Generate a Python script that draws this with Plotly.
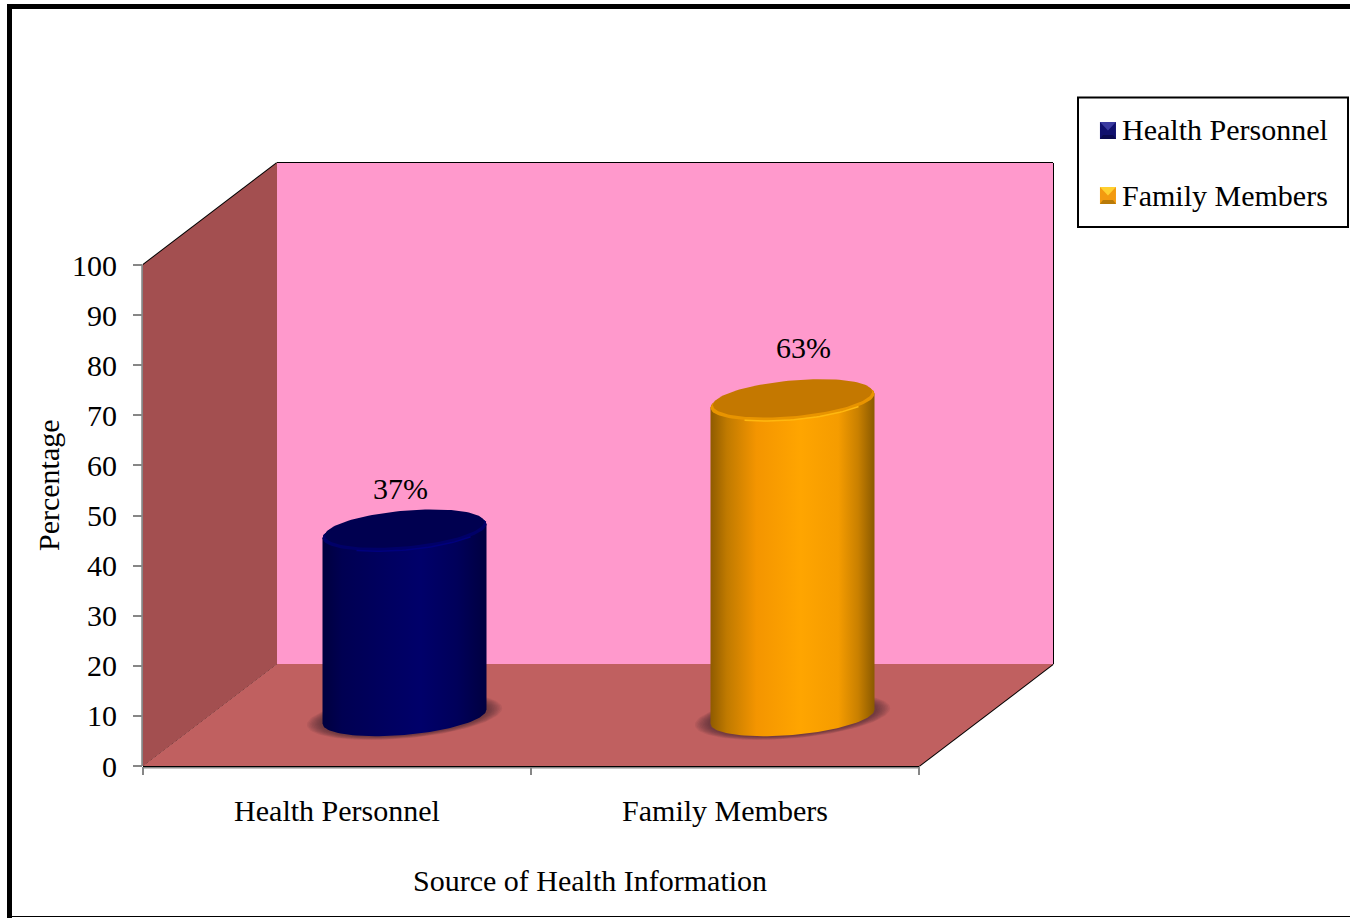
import numpy as np
import plotly.graph_objects as go

categories = ["Health Personnel", "Family Members"]
values = [37, 63]
y_ticks = [0, 10, 20, 30, 40, 50, 60, 70, 80, 90, 100]
x_title = "Source of Health Information"
y_title = "Percentage"

BAR_COLORS = [
    dict(
        body=[[0, "#00003e"], [0.12, "#000052"], [0.35, "#00005e"], [0.6, "#00006a"], [0.82, "#00005a"], [1, "#000040"]],
        cap="#000050", rim="#000068", hi="#00007e",
        sw=("#10106e", "#3a3aa0", "#0a0a50", "#141478"),
    ),
    dict(
        body=[[0, "#8f5b00"], [0.1, "#c07a00"], [0.28, "#f49500"], [0.55, "#ffa500"], [0.78, "#f59c00"], [0.9, "#c98000"], [1, "#8a5a00"]],
        cap="#c47800", rim="#e89400", hi="#ffb80f",
        sw=("#f39a10", "#ffd030", "#b87a08", "#f5a818"),
    ),
]
# % label placement: px sideways, px above the cap centre
LABEL_SHIFT = [(-4, 40), (11, 50)]

W, H = 1350, 918
X0, X1 = 143, 919      # front floor edge
Y0, Y100 = 766, 265    # value 0 and 100 on the front plane
DX, DY = 134, 102      # depth of the 3D box
BASE_PX = 716.5        # floor level under the bars
PX_X = (X1 - X0) / 2
PX_Y = (Y0 - Y100) / 100
xmax = (X1 + DX - X0) / PX_X
ymax = 100 + DY / PX_Y
PLOT_W = X1 + DX - X0
PLOT_H = Y0 - (Y100 - DY)


def paper(x, y):
    # paper coordinates are relative to the plot area
    return (x - X0) / PLOT_W, (Y0 - y) / PLOT_H


def poly(pts):
    return "M " + " L ".join(f"{a:.4f},{b:.4f}" for a, b in pts) + " Z"


def xv(px):
    return (px - X0) / PX_X


def yv(px):
    return (Y0 - px) / PX_Y


dx, dy = DX / PX_X, DY / PX_Y
shapes = []


def wall(pts, color):
    shapes.append(dict(type="path", path=poly(pts), xref="x", yref="y", fillcolor=color, line_width=0, layer="below"))


def seg(x0, y0, x1, y1, color="#000000", width=2):
    # paper refs so the box edges are not clipped at the plot area
    a, b = x0 * PX_X / PLOT_W, y0 * PX_Y / PLOT_H
    c, d = x1 * PX_X / PLOT_W, y1 * PX_Y / PLOT_H
    shapes.append(dict(type="line", xref="paper", yref="paper", x0=a, y0=b, x1=c, y1=d,
                       line=dict(color=color, width=width), layer="below"))


wall([(0, 0), (0, 100), (dx, 100 + dy), (dx, dy)], "#a34f50")
wall([(dx, dy), (dx, 100 + dy), (2 + dx, 100 + dy), (2 + dx, dy)], "#ff99cc")
wall([(0, 0), (dx, dy), (2 + dx, dy), (2, 0)], "#c06060")

seg(0, 100, dx, 100 + dy)
seg(dx, 100 + dy, 2 + dx, 100 + dy)
seg(2 + dx, 100 + dy, 2 + dx, dy)
seg(2 + dx, dy, 2, 0)
seg(dx, dy, 2 + dx, dy, width=1)
seg(dx, dy, dx, 100 + dy, "#6a3038", 1)
seg(0, 0, dx, dy, width=1)
seg(0, -0.35, 2, -0.35, "#868686", 1.5)
seg(0, 0, 2, 0)
seg(-0.002, 0, -0.002, 100, "#868686", 2)

fig = go.Figure()

A, TILT, B = 82, 7, 18.5
t = np.linspace(0, 2 * np.pi, 121)


def ellipse(cx, cy, scale=1.0, shift=0.0, ts=t):
    xs = cx + scale * A * np.cos(ts) / PX_X
    ys = cy + shift / PX_Y + scale * (TILT * np.cos(ts) + B * np.sin(ts)) / PX_Y
    return xs, ys


for i, (cat, v) in enumerate(zip(categories, values)):
    col = BAR_COLORS[i]
    cx = i + 0.5 + 67.5 / PX_X
    base = (Y0 - BASE_PX) / PX_Y
    top = base + v

    # soft shadow on the floor
    for s in [1.19, 1.17, 1.15, 1.13, 1.11, 1.09, 1.07, 1.05, 1.03]:
        xs, ys = ellipse(cx, base, s)
        fig.add_trace(go.Scatter(x=xs, y=ys, mode="lines", line_width=0, fill="toself",
                                 fillcolor="rgba(60,30,45,0.085)", hoverinfo="skip", showlegend=False))

    # body silhouette
    low = np.linspace(np.pi, 2 * np.pi, 61)
    upp = np.linspace(0, np.pi, 61)
    bx, by = ellipse(cx, base, ts=low)
    tx, ty = ellipse(cx, top, ts=upp)
    fig.add_trace(go.Scatter(x=np.r_[bx, tx], y=np.r_[by, ty], mode="lines", line_width=0, fill="toself",
                             fillgradient=dict(type="horizontal", colorscale=col["body"]),
                             name=cat, hoverinfo="skip", showlegend=False))

    # cap with a lit rim
    xs, ys = ellipse(cx, top, 1.0)
    fig.add_trace(go.Scatter(x=xs, y=ys, mode="lines", line_width=0, fill="toself", fillcolor=col["rim"],
                             hoverinfo="skip", showlegend=False))
    xs, ys = ellipse(cx, top, 0.995, -0.5, ts=np.linspace(np.pi * 1.3, np.pi * 1.8, 40))
    fig.add_trace(go.Scatter(x=xs, y=ys, mode="lines", line=dict(color=col["hi"], width=1.5),
                             hoverinfo="skip", showlegend=False))
    xs, ys = ellipse(cx, top, 0.97, 2.5)
    fig.add_trace(go.Scatter(x=xs, y=ys, mode="lines", line_width=0, fill="toself", fillcolor=col["cap"],
                             hoverinfo="skip", showlegend=False))

# value labels
lab_x, lab_y, lab_t = [], [], []
for i, v in enumerate(values):
    sx, up = LABEL_SHIFT[i]
    lab_x.append(i + 0.5 + (67.5 + sx) / PX_X)
    lab_y.append((Y0 - BASE_PX) / PX_Y + v + up / PX_Y)
    lab_t.append(f"{v}%")
fig.add_trace(go.Scatter(x=lab_x, y=lab_y, text=lab_t, mode="text", textposition="middle center",
                         textfont=dict(size=30, color="#000000"), hoverinfo="skip", showlegend=False))


def pshape(kind, **kw):
    shapes.append(dict(type=kind, xref="paper", yref="paper", **kw))


# outer frame
for a, b, c, d in [(7, 4, 1350, 9), (7, 4, 12, 918)]:
    pa, pb = paper(a, b)
    pc, pd = paper(c, d)
    pshape("rect", x0=pa, y0=pb, x1=pc, y1=pd, fillcolor="#000000", line_width=0)
pa, pb = paper(12, 916.5)
pc, pd = paper(1350, 916.5)
pshape("line", x0=pa, y0=pb, x1=pc, y1=pd, line=dict(color="#000000", width=1))

# legend box
pa, pb = paper(1078, 97.5)
pc, pd = paper(1348, 227)
pshape("rect", x0=pa, y0=pb, x1=pc, y1=pd, fillcolor="#ffffff", line=dict(color="#000000", width=2))

annotations = []
for i, cat in enumerate(categories):
    ly = 131 + i * 65
    l, r, u, d = 1100, 1116, ly - 9, ly + 8
    m = ((l + r) / 2, (u + d) / 2)
    side, topc, botc, inner = BAR_COLORS[i]["sw"]
    for pts, c in [([(l, u), (r, u), (r, d), (l, d)], side),
                   ([(l, u), (r, u), m], topc),
                   ([(l, d), (r, d), (r - 3, d - 4), (l + 3, d - 4)], botc)]:
        shapes.append(dict(type="path", xref="paper", yref="paper",
                           path=poly([paper(*p) for p in pts]), fillcolor=c, line_width=0))
    ax, ay = paper(1120, ly - 1)
    annotations.append(dict(xref="paper", yref="paper", x=ax, y=ay, text=cat, showarrow=False,
                            xanchor="left", yanchor="middle", font=dict(size=30)))

annotations.append(dict(xref="x", yref="paper", x=xv(590), y=paper(0, 880)[1], text=x_title, showarrow=False,
                        xanchor="center", yanchor="middle", font=dict(size=30)))
annotations.append(dict(xref="paper", yref="y", x=paper(48, 0)[0], y=yv(485), text=y_title, textangle=-90,
                        showarrow=False, xanchor="center", yanchor="middle", font=dict(size=30)))

fig.update_layout(
    width=W, height=H,
    margin=dict(l=X0, r=W - X1 - DX, t=Y100 - DY, b=H - Y0, pad=0, autoexpand=False),
    paper_bgcolor="#ffffff", plot_bgcolor="rgba(0,0,0,0)",
    font=dict(family="Liberation Serif, Times New Roman, serif", color="#000000", size=30),
    showlegend=False,
    shapes=shapes,
    annotations=annotations,
    xaxis=dict(
        range=[0, xmax], showgrid=False, zeroline=False, showline=False,
        tickmode="array", tickvals=[0.5, 1.5], ticktext=categories, ticks="", ticklabelstandoff=24,
        minor=dict(tickmode="array", tickvals=[0, 1, 2], ticks="outside", ticklen=8, tickwidth=2, tickcolor="#868686"),
        tickfont=dict(size=30),
    ),
    yaxis=dict(
        range=[0, ymax], showgrid=False, zeroline=False, showline=False,
        tickmode="array", tickvals=y_ticks, ticks="outside", ticklen=9, tickwidth=2, tickcolor="#868686",
        ticklabelstandoff=10, tickfont=dict(size=30),
    ),
)

fig.write_html("out.html", config=dict(displayModeBar=False), post_script="document.body.style.margin='0';")
